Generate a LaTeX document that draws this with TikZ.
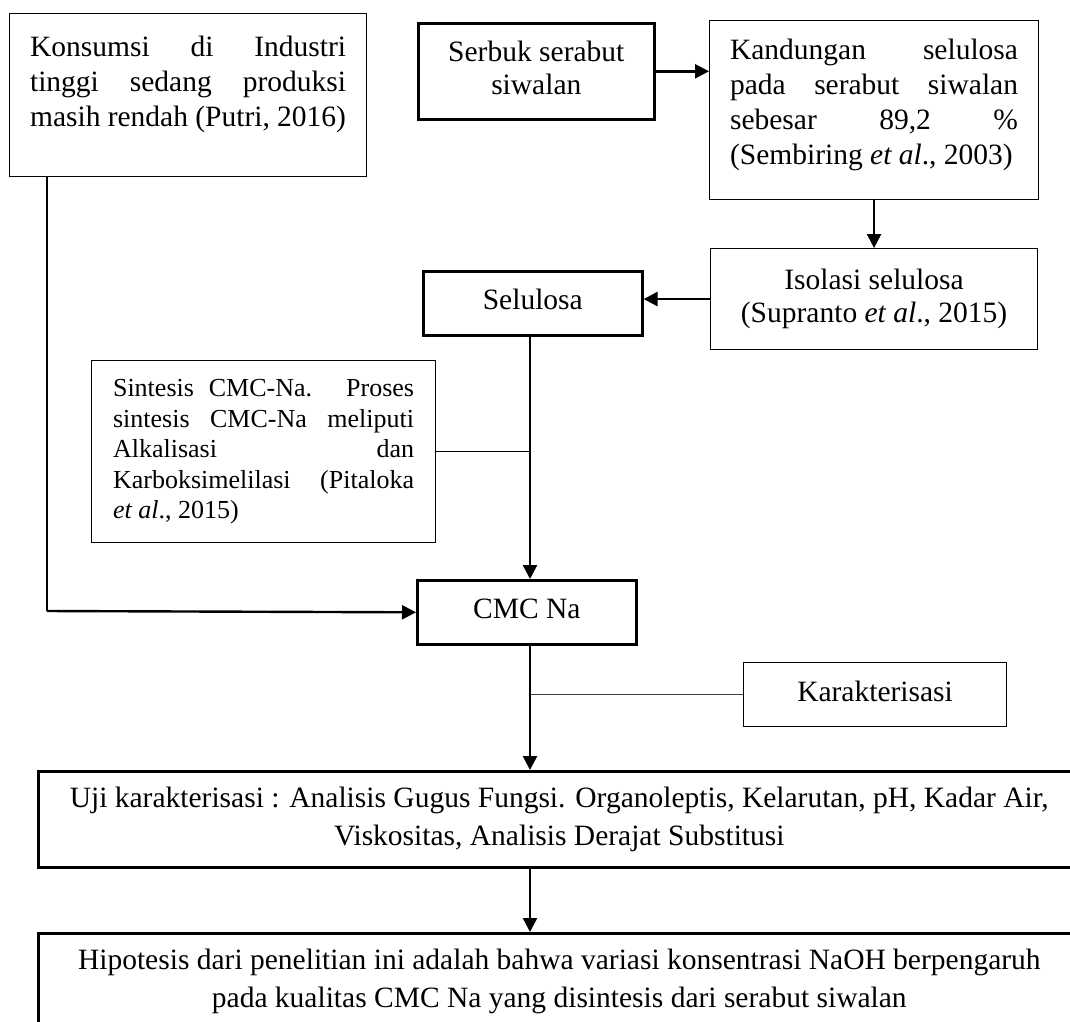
\documentclass[tikz,border=0pt]{standalone}
\usepackage{fontspec}
\setmainfont{Liberation Serif}
\usetikzlibrary{arrows.meta}
\newcommand\jline[1]{\makebox[\linewidth][s]{\strut #1}\par}
\newcommand\eline[1]{\strut #1\par}
\begin{document}
\begin{tikzpicture}[x=1pt,y=-1pt,
  txt/.style={font=\fontsize{29.5}{35}\selectfont},
  thinbox/.style={draw=black,line width=1.1pt,anchor=north west,inner xsep=20.5pt},
  thickbox/.style={draw=black,line width=2.6pt,anchor=north west,inner sep=0pt,align=center,font=\fontsize{29.5}{33}\selectfont},
  arr/.style={line width=2.4pt,-{Triangle[length=14pt,width=14pt]}},
  link/.style={line width=1.2pt},
]
\useasboundingbox (0,0) rectangle (1070,1021);
\clip (0,0) rectangle (1070,1021);

\node[thinbox,txt,inner ysep=18.5pt] (kons) at (9,13) {\parbox[c][126pt][t]{316pt}{%
  \jline{Konsumsi di Industri}
  \jline{tinggi sedang produksi}
  \eline{masih rendah (Putri, 2016)}}};

\node[thickbox,minimum width=236pt,minimum height=96pt] (serb) at (417,22) {\strut Serbuk serabut\\\strut siwalan};

\node[thinbox,txt,inner ysep=14.5pt] (kand) at (709,20) {\parbox[c][150pt][t]{288pt}{%
  \jline{Kandungan selulosa}
  \jline{pada serabut siwalan}
  \jline{sebesar 89,2 \%}
  \eline{(Sembiring \textit{et al}., 2003)}}};

\node[thinbox,align=center,inner sep=0pt,minimum width=327pt,minimum height=101pt,font=\fontsize{29.5}{33}\selectfont] (isol) at (710,248) {\strut Isolasi selulosa\\\strut (Supranto \textit{et al}., 2015)};

\node[thickbox,minimum width=219pt,minimum height=64pt] (selu) at (422,270) {\strut Selulosa};

\node[thinbox,inner xsep=21.5pt,inner ysep=15pt,font=\fontsize{26}{30.5}\selectfont] (sint) at (91,360) {\parbox[c][152pt][t]{301pt}{%
  \jline{Sintesis CMC-Na. Proses}
  \jline{sintesis CMC-Na meliputi}
  \jline{Alkalisasi dan}
  \jline{Karboksimelilasi (Pitaloka}
  \eline{\textit{et al}., 2015)}}};

\node[thickbox,minimum width=219pt,minimum height=64pt] (cmc) at (416,579) {\strut CMC Na};

\node[thinbox,inner sep=0pt,align=center,minimum width=263pt,minimum height=64pt,font=\fontsize{29.5}{33}\selectfont] (kar) at (743,662) {\strut Karakterisasi};

\node[thickbox,minimum width=1042pt,minimum height=96pt,font=\fontsize{29.5}{38}\selectfont] (uji) at (37,770) {\strut Uji karakterisasi : Analisis Gugus Fungsi. Organoleptis, Kelarutan, pH, Kadar Air,\\\strut Viskositas, Analisis Derajat Substitusi};

\node[thickbox,minimum width=1042pt,minimum height=95pt,font=\fontsize{29.5}{38}\selectfont] (hip) at (37,932) {\strut Hipotesis dari penelitian ini adalah bahwa variasi konsentrasi NaOH berpengaruh\\\strut pada kualitas CMC Na yang disintesis dari serabut siwalan};

\coordinate (colx) at (530,0);
\coordinate (kc) at (47,611);
\draw[arr] (serb.east) -- (serb.east -| kand.west);
\draw[arr] (kand.south) -- (isol.north);
\draw[arr] (isol.west) -- (isol.west -| selu.east);
\draw[arr] (selu.south -| colx) -- (cmc.north -| colx);
\draw[link] (sint.east) -- (sint.east -| colx);
\draw[link] (kons.south -| kc) -- (kc);
\draw[arr] (kc) -- (cmc.west);
\draw[link,draw=black!75] (colx |- kar.west) -- (kar.west);
\draw[arr] (cmc.south -| colx) -- (uji.north -| colx);
\draw[arr] (uji.south -| colx) -- (hip.north -| colx);
\end{tikzpicture}
\end{document}
